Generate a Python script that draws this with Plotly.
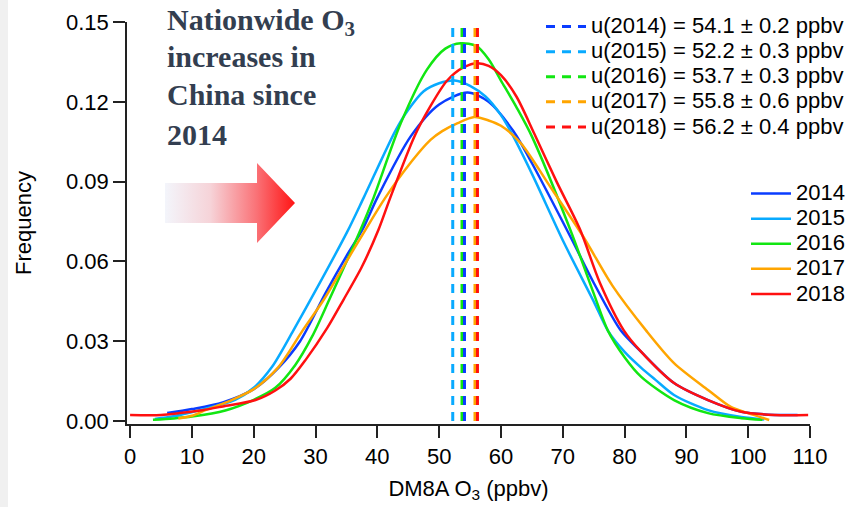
import plotly.graph_objects as go

# ---------------- data ----------------
years = ["2014", "2015", "2016", "2017", "2018"]
colors = ["#0a3cff", "#08aaff", "#12e612", "#ffa500", "#ff1010"]

x2014 = [6, 10, 15, 20, 24, 27.5, 31.6, 35, 37.6, 40, 45.4, 50, 54.6, 58, 62, 65, 71.3, 75, 79.4, 82.7, 88, 93.5, 98.9, 104.3, 108]
y2014 = [0.003, 0.0045, 0.007, 0.012, 0.020, 0.030, 0.048, 0.062, 0.072, 0.084, 0.107, 0.119, 0.1235, 0.120, 0.109, 0.097, 0.069, 0.052, 0.034, 0.026, 0.0143, 0.0079, 0.0035, 0.0023, 0.0023]

x2015 = [4, 7, 11, 17, 20, 23, 26.4, 30, 35.1, 37.8, 42.9, 45, 47.5, 50, 52.5, 55, 57.5, 60, 62, 65, 70.2, 75, 77.3, 80, 82.7, 85, 88, 93.5, 98.9, 102.6]
y2015 = [0.0008, 0.0018, 0.004, 0.008, 0.0125, 0.0205, 0.034, 0.049, 0.071, 0.084, 0.109, 0.117, 0.124, 0.127, 0.128, 0.126, 0.122, 0.115, 0.107, 0.093, 0.067, 0.045, 0.034, 0.026, 0.020, 0.0155, 0.0098, 0.0041, 0.0015, 0.0006]

x2016 = [3.7, 7, 10, 15.4, 20, 23.5, 26.7, 29.5, 32.2, 37.3, 39.4, 43.8, 48, 51, 53.5, 56, 58, 60, 62.5, 65, 71.2, 75, 77.3, 80, 82.7, 88, 93.5, 98.9, 102.3]
y2016 = [0.0005, 0.001, 0.0017, 0.004, 0.008, 0.0125, 0.021, 0.032, 0.0455, 0.072, 0.084, 0.112, 0.132, 0.140, 0.142, 0.141, 0.136, 0.128, 0.118, 0.107, 0.072, 0.048, 0.034, 0.024, 0.0166, 0.0079, 0.003, 0.0011, 0.0005]

x2017 = [7.8, 10, 12.2, 16.5, 20, 24, 27.9, 31.3, 34.5, 38.1, 41.3, 45, 48.6, 50.5, 53, 55.7, 58, 60, 63.2, 68, 73.4, 78, 83.5, 88, 93.5, 97.2, 100, 103.4]
y2017 = [0.001, 0.002, 0.0041, 0.008, 0.012, 0.0203, 0.034, 0.0455, 0.058, 0.072, 0.084, 0.096, 0.1057, 0.109, 0.112, 0.1143, 0.113, 0.111, 0.1045, 0.088, 0.069, 0.051, 0.034, 0.0218, 0.0117, 0.0053, 0.003, 0.0004]

x2018 = [0, 5, 8, 11.7, 15, 20.3, 23.5, 26, 28.4, 31.9, 34.5, 37.5, 40.2, 42.1, 46, 48.5, 51.3, 54, 56.2, 58, 60, 62.5, 65.4, 69, 72.8, 76, 79.9, 82.7, 88, 93.5, 98.9, 104.3, 109.7]
y2018 = [0.0023, 0.0023, 0.003, 0.0041, 0.0055, 0.0079, 0.0115, 0.016, 0.023, 0.035, 0.0455, 0.058, 0.072, 0.084, 0.107, 0.118, 0.128, 0.133, 0.1345, 0.1335, 0.130, 0.122, 0.108, 0.090, 0.072, 0.052, 0.034, 0.026, 0.0143, 0.0079, 0.0035, 0.0023, 0.0023]

curves_x = [x2014, x2015, x2016, x2017, x2018]
curves_y = [y2014, y2015, y2016, y2017, y2018]

means = [54.1, 52.2, 53.7, 55.8, 56.2]
errs = [0.2, 0.3, 0.3, 0.6, 0.4]
mean_draw_order = [1, 2, 0, 3, 4]   # 2015, 2016, 2014, 2017, 2018 (as overlapped in the original)

x_ticks = [0, 10, 20, 30, 40, 50, 60, 70, 80, 90, 100, 110]
y_ticks = [0.00, 0.03, 0.06, 0.09, 0.12, 0.15]
y_ticktext = ["0.00", "0.03", "0.06", "0.09", "0.12", "0.15"]
y_top = 0.15

headline = ["Nationwide O<sub>3</sub>", "increases in", "China since", "2014"]

# ---------------- figure ----------------
W, H = 853, 507
ML, MR, MT, MB = 127, 43, 22, 83
PW, PH = W - ML - MR, H - MT - MB

fig = go.Figure()

for i, yr in enumerate(years):
    fig.add_trace(go.Scatter(
        x=curves_x[i], y=curves_y[i], mode="lines",
        line=dict(color=colors[i], width=2.5, shape="spline", smoothing=0.8),
        name='<span style="font-size:22px">%s</span>' % yr,
        legend="legend", legendrank=i + 1, hoverinfo="skip"))

for i in mean_draw_order:
    fig.add_trace(go.Scatter(
        x=[means[i], means[i]], y=[0, y_top], mode="lines",
        line=dict(color=colors[i], width=3, dash="9px,7px"),
        name='<span style="font-size:22px">u(%s) = %.1f ± %.1f ppbv</span>' % (years[i], means[i], errs[i]),
        legend="legend2", legendrank=i + 1, hoverinfo="skip"))

# decorative gradient arrow, drawn on a hidden pixel-space overlay axis
arrow_x = [165, 257, 257, 295, 257, 257, 165, 165]
arrow_y = [183, 183, 163, 203, 243, 223, 223, 183]
fig.add_trace(go.Scatter(
    x=arrow_x, y=arrow_y, xaxis="x2", yaxis="y2", mode="lines", fill="toself",
    line=dict(width=0, color="rgba(0,0,0,0)"),
    fillgradient=dict(type="horizontal",
                      colorscale=[[0, "#f3f5fb"], [0.35, "#f6d3d8"], [0.7, "#fa7378"], [1, "#ff1414"]]),
    showlegend=False, hoverinfo="skip"))

line_tops = [1, 38, 76, 116]
annotations = []
for txt, top in zip(headline, line_tops):
    annotations.append(dict(
        text=txt, xref="paper", yref="paper",
        x=(165 - ML) / PW, y=(H - MB - top) / PH,
        xanchor="left", yanchor="top", align="left", showarrow=False,
        font=dict(family="Liberation Serif, Times New Roman, serif", size=30,
                  color="#333e50", weight="bold")))

axis_col = "#222222"
fig.update_layout(
    width=W, height=H,
    margin=dict(l=ML, r=MR, t=MT, b=MB, autoexpand=False),
    paper_bgcolor="white", plot_bgcolor="white",
    font=dict(family="Liberation Sans, Arial, sans-serif", size=22, color="black"),
    xaxis=dict(range=[-0.5, 110], tickvals=x_ticks, ticks="outside", ticklen=12, tickwidth=1.5,
               tickcolor=axis_col, showline=True, linecolor=axis_col, linewidth=1.5,
               showgrid=False, zeroline=False, tickfont=dict(size=22),
               title=dict(text="DM8A O<sub>3</sub> (ppbv)", font=dict(size=22), standoff=12)),
    yaxis=dict(range=[-0.0011, 0.15], tickvals=y_ticks, ticktext=y_ticktext, ticks="outside",
               ticklen=12, tickwidth=1.5, tickcolor=axis_col, showline=True, linecolor=axis_col,
               linewidth=1.5, showgrid=False, zeroline=False, tickfont=dict(size=22),
               title=dict(text="Frequency", font=dict(size=22), standoff=28)),
    xaxis2=dict(overlaying="x", range=[ML, W - MR], visible=False, anchor="y2"),
    yaxis2=dict(overlaying="y", range=[H - MB, MT], visible=False, anchor="x2"),
    legend=dict(x=(746 - ML) / PW, y=(H - MB - 176) / PH, xanchor="left", yanchor="top",
                bgcolor="rgba(0,0,0,0)", font=dict(size=17), itemwidth=40, tracegroupgap=0),
    legend2=dict(x=(541 - ML) / PW, y=(H - MB - 9) / PH, xanchor="left", yanchor="top",
                 bgcolor="rgba(0,0,0,0)", font=dict(size=17), itemwidth=40, tracegroupgap=0),
    showlegend=True,
    annotations=annotations,
    shapes=[dict(type="rect", xref="paper", yref="paper",
                 x0=-ML / PW, x1=(8 - ML) / PW, y0=-MB / PH, y1=1 + MT / PH,
                 fillcolor="#f0f0f0", line=dict(width=0), layer="below")],
)

fig.write_html("out.html", config={"displayModeBar": False},
               post_script="document.body.style.margin='0';document.body.style.overflow='hidden';")
